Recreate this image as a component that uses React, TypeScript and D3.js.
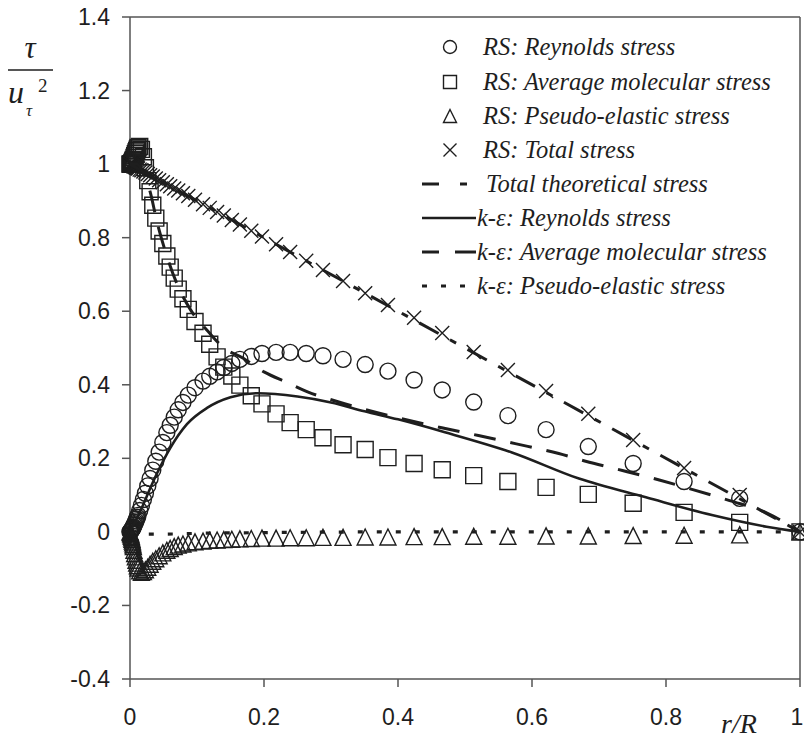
import React from 'react';
import * as d3 from 'd3';

// r/R grid of the RS simulation (markers), dense near the wall
const rGrid = [0, 0.0005, 0.001, 0.0015, 0.002, 0.0025, 0.003, 0.0035, 0.004, 0.0045, 0.005, 0.006, 0.007, 0.008, 0.009, 0.010, 0.011, 0.012, 0.0145, 0.017, 0.020, 0.023, 0.0265, 0.030, 0.034, 0.0385, 0.0435, 0.049, 0.055, 0.060, 0.066, 0.072, 0.079, 0.087, 0.097, 0.109, 0.119, 0.130, 0.140, 0.152, 0.164, 0.181, 0.197, 0.218, 0.239, 0.263, 0.288, 0.318, 0.351, 0.385, 0.424, 0.466, 0.513, 0.564, 0.621, 0.684, 0.751, 0.827, 0.910, 1.0];

const rsReynolds = [0, 0.001, 0.002, 0.003, 0.004, 0.006, 0.007, 0.009, 0.01, 0.012, 0.014, 0.018, 0.022, 0.026, 0.03, 0.035, 0.04, 0.045, 0.058, 0.072, 0.088, 0.105, 0.125, 0.145, 0.168, 0.192, 0.217, 0.243, 0.27, 0.29, 0.312, 0.332, 0.352, 0.372, 0.392, 0.41, 0.423, 0.435, 0.447, 0.458, 0.469, 0.477, 0.485, 0.488, 0.488, 0.485, 0.479, 0.469, 0.455, 0.437, 0.413, 0.386, 0.353, 0.316, 0.278, 0.232, 0.186, 0.137, 0.091, 0];

const rsMolecular = [1.0, 1.0, 1.0, 1.0, 1.001, 1.002, 1.004, 1.006, 1.008, 1.01, 1.013, 1.018, 1.023, 1.028, 1.033, 1.037, 1.041, 1.045, 1.048, 1.04, 1.02, 0.99, 0.955, 0.925, 0.888, 0.853, 0.818, 0.784, 0.75, 0.72, 0.69, 0.66, 0.634, 0.605, 0.572, 0.54, 0.51, 0.476, 0.448, 0.424, 0.399, 0.37, 0.348, 0.321, 0.297, 0.278, 0.256, 0.237, 0.224, 0.202, 0.186, 0.169, 0.153, 0.137, 0.121, 0.102, 0.078, 0.053, 0.026, 0];

const rsElastic = [0, -0.002, -0.005, -0.008, -0.012, -0.016, -0.02, -0.025, -0.03, -0.035, -0.04, -0.05, -0.059, -0.068, -0.077, -0.085, -0.092, -0.098, -0.106, -0.11, -0.108, -0.103, -0.096, -0.088, -0.08, -0.073, -0.065, -0.057, -0.05, -0.045, -0.04, -0.036, -0.033, -0.03, -0.027, -0.025, -0.023, -0.022, -0.021, -0.02, -0.019, -0.018, -0.017, -0.017, -0.016, -0.016, -0.015, -0.015, -0.014, -0.014, -0.013, -0.013, -0.012, -0.012, -0.011, -0.011, -0.01, -0.009, -0.008, 0];

const rsTotal = [1.0, 1.0, 0.999, 0.998, 0.998, 0.997, 0.997, 0.996, 0.996, 0.995, 0.995, 0.994, 0.993, 0.992, 0.991, 0.99, 0.989, 0.988, 0.985, 0.983, 0.98, 0.977, 0.973, 0.97, 0.966, 0.961, 0.956, 0.951, 0.945, 0.94, 0.934, 0.928, 0.921, 0.913, 0.903, 0.891, 0.881, 0.87, 0.86, 0.848, 0.836, 0.819, 0.803, 0.782, 0.761, 0.737, 0.712, 0.682, 0.649, 0.617, 0.582, 0.541, 0.489, 0.44, 0.383, 0.321, 0.25, 0.174, 0.1, 0];

// theoretical total stress
const theoryR = [0, 1];
const theoryTau = [1, 0];

// k-epsilon curves
const keReyR = [0, 0.005, 0.01, 0.02, 0.03, 0.04, 0.06, 0.085, 0.115, 0.15, 0.19, 0.25, 0.30, 0.35, 0.40, 0.47, 0.57, 0.67, 0.77, 0.87, 0.95, 1.0];
const keReyTau = [0, 0.018, 0.036, 0.075, 0.118, 0.158, 0.228, 0.293, 0.337, 0.366, 0.377, 0.368, 0.352, 0.328, 0.306, 0.271, 0.216, 0.145, 0.094, 0.045, 0.014, 0];

const keMolR = [0, 0.01, 0.02, 0.03, 0.04, 0.055, 0.07, 0.09, 0.119, 0.139, 0.169, 0.2, 0.236, 0.266, 0.303, 0.35, 0.40, 0.46, 0.52, 0.575, 0.64, 0.68, 0.735, 0.79, 0.84, 0.895, 0.95, 1.0];
const keMolTau = [1.0, 1.0, 0.975, 0.925, 0.845, 0.75, 0.675, 0.605, 0.54, 0.502, 0.472, 0.435, 0.405, 0.38, 0.358, 0.333, 0.31, 0.285, 0.262, 0.24, 0.213, 0.192, 0.167, 0.141, 0.115, 0.085, 0.052, 0];

const keElaR = [0, 0.02, 0.05, 0.1, 0.2, 0.4, 0.6, 0.8, 0.95, 1.0];
const keElaTau = [0, -0.006, -0.006, -0.004, -0.002, 0, 0, 0, 0, 0];

const xTicks = [0, 0.2, 0.4, 0.6, 0.8, 1];
const yTicks = [-0.4, -0.2, 0, 0.2, 0.4, 0.6, 0.8, 1, 1.2, 1.4];

const INK = '#1e1e1e';
const AXIS = '#555';
const SERIF = 'Liberation Serif, Times New Roman, serif';

const markerPath = (kind: string, s: number) => {
  const h = s / 2;
  if (kind === 'circle') return `M${-h},0a${h},${h} 0 1,0 ${s},0a${h},${h} 0 1,0 ${-s},0`;
  if (kind === 'square') return `M${-h},${-h}h${s}v${s}h${-s}Z`;
  if (kind === 'triangle') return `M0,${-h}L${h},${h}L${-h},${h}Z`;
  return `M${-h},${-h}L${h},${h}M${h},${-h}L${-h},${h}`;
};

const App: React.FC = () => {
  const width = 804;
  const height = 741;
  const x = d3.scaleLinear().domain([0, 1]).range([130, 800]);
  const y = d3.scaleLinear().domain([-0.4, 1.4]).range([679, 17]);

  const line = (rs: number[], ts: number[], curve = d3.curveMonotoneX) =>
    d3.line<number>().x((_, i) => x(rs[i])).y((t) => y(t)).curve(curve)(ts) || '';

  const markerSeries = [
    { kind: 'circle', vals: rsReynolds, size: 16 },
    { kind: 'square', vals: rsMolecular, size: 16 },
    { kind: 'triangle', vals: rsElastic, size: 16 },
    { kind: 'cross', vals: rsTotal, size: 14 },
  ];

  const lines = [
    { d: line(theoryR, theoryTau, d3.curveLinear), dash: '22,13,7,13', w: 3 },
    { d: line(keReyR, keReyTau), dash: undefined, w: 2.6 },
    { d: line(keMolR, keMolTau), dash: '22,15', w: 3 },
    { d: line(keElaR, keElaTau), dash: '5,14', w: 3.2 },
  ];

  const legendRows = [
    { kind: 'circle', label: 'RS: Reynolds stress', y: 47, tx: 483 },
    { kind: 'square', label: 'RS: Average molecular stress', y: 82, tx: 483 },
    { kind: 'triangle', label: 'RS: Pseudo-elastic stress', y: 116, tx: 483 },
    { kind: 'cross', label: 'RS: Total stress', y: 150, tx: 483 },
    { kind: 'line', dash: '17,21,7,200', w: 3, label: 'Total theoretical stress', y: 184, tx: 486 },
    { kind: 'line', dash: undefined, w: 2.6, label: 'k-ε: Reynolds stress', y: 218, tx: 477 },
    { kind: 'line', dash: '17,16,30', w: 3, label: 'k-ε: Average molecular stress', y: 252, tx: 477 },
    { kind: 'line', dash: '5,14', w: 3.2, label: 'k-ε: Pseudo-elastic stress', y: 286, tx: 477 },
  ];

  return (
    <svg width={width} height={height} style={{ position: 'absolute', left: 0, top: 0, background: '#fff' }}>
      {/* frame */}
      <g stroke={AXIS} strokeWidth={1.5} fill="none">
        <line x1={130} x2={130} y1={17} y2={679} />
        <line x1={130} x2={800} y1={679} y2={679} />
        <line x1={130} x2={800} y1={17} y2={17} />
        <line x1={800} x2={800} y1={17} y2={679} />
        {yTicks.map((t) => (
          <line key={t} x1={122} x2={130} y1={y(t)} y2={y(t)} />
        ))}
        {xTicks.map((t) => (
          <line key={t} x1={x(t)} x2={x(t)} y1={679} y2={687} />
        ))}
      </g>
      <g fontFamily="Liberation Sans, Arial, sans-serif" fontSize={23} fill={INK}>
        {yTicks.map((t) => (
          <text key={t} x={110} y={y(t) + 8} textAnchor="end">{d3.format('~g')(t).replace('−', '-')}</text>
        ))}
        {xTicks.map((t) => (
          <text key={t} x={Math.min(x(t), 797)} y={725} textAnchor="middle">{d3.format('~g')(t)}</text>
        ))}
      </g>

      {/* axis titles */}
      <g fontFamily={SERIF} fontStyle="italic" fill={INK}>
        <text x={30} y={58} fontSize={31} textAnchor="middle">τ</text>
        <line x1={8} x2={53} y1={70} y2={70} stroke={INK} strokeWidth={1.5} />
        <text x={8} y={103} fontSize={32}>u</text>
        <text x={26} y={116} fontSize={17}>τ</text>
        <text x={38} y={92} fontSize={19} fontStyle="normal">2</text>
        <text x={721} y={733} fontSize={28}>r/R</text>
      </g>

      {/* RS markers */}
      {markerSeries.map((s) => (
        <g key={s.kind} fill="none" stroke={INK} strokeWidth={1.4}>
          {s.vals.map((v, i) => (
            <path key={i} transform={`translate(${x(rGrid[i])},${y(v)})`} d={markerPath(s.kind, s.size)} />
          ))}
        </g>
      ))}

      {/* k-epsilon and theory lines */}
      {lines.map((l, i) => (
        <path key={i} d={l.d} fill="none" stroke={INK} strokeWidth={l.w} strokeDasharray={l.dash} />
      ))}

      {/* legend */}
      <g>
        {legendRows.map((r) => (
          <g key={r.label}>
            {r.kind === 'line' ? (
              <line x1={422} x2={476} y1={r.y} y2={r.y} stroke={INK} strokeWidth={r.w} strokeDasharray={r.dash} />
            ) : (
              <path transform={`translate(450,${r.y})`} d={markerPath(r.kind, 13)} fill="none" stroke={INK} strokeWidth={1.4} />
            )}
            <text x={r.tx} y={r.y + 8} fontFamily={SERIF} fontStyle="italic" fontSize={24.5} fill={INK}>
              {r.label}
            </text>
          </g>
        ))}
      </g>
    </svg>
  );
};

export default App;
